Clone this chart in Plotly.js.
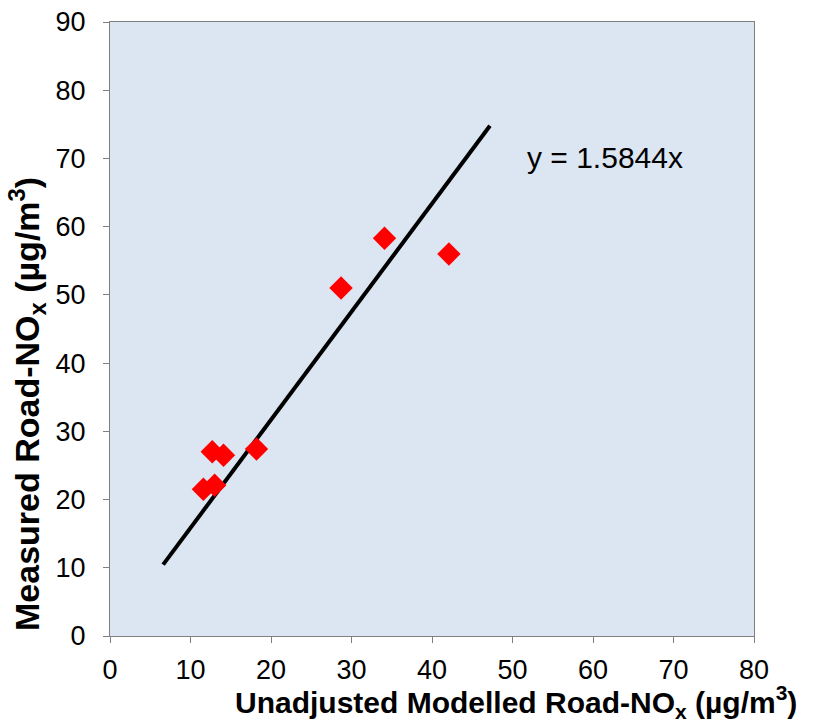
<!DOCTYPE html>
<html>
<head>
<meta charset="utf-8">
<script src="https://cdn.plot.ly/plotly-3.0.1.min.js"></script>
<style>html,body{margin:0;padding:0;background:#fff;}#chart{width:824px;height:727px;}</style>
</head>
<body>
<div id="chart"></div>
<script>
// Data
const modelled = [11.6, 13.0, 12.7, 14.1, 18.2, 28.7, 34.1, 42.1];
const measured = [21.5, 22.1, 27.0, 26.5, 27.4, 51.0, 58.3, 56.0];
const slope = 1.5844;
const fitX = [6.6, 47.2];
const fitY = fitX.map(x => slope * x);
const xTicks = [0, 10, 20, 30, 40, 50, 60, 70, 80];
const yTicks = [0, 10, 20, 30, 40, 50, 60, 70, 80, 90];

const traces = [
  {
    x: fitX, y: fitY, type: 'scatter', mode: 'lines',
    line: {color: '#000000', width: 4}, hoverinfo: 'skip'
  },
  {
    x: modelled, y: measured, type: 'scatter', mode: 'markers',
    marker: {symbol: 'diamond', size: 18, color: '#ff0000', line: {width: 0}}
  }
];

const axisCommon = {
  showgrid: false, zeroline: false, showline: true, linecolor: '#808080', linewidth: 1,
  mirror: true, ticks: 'outside', ticklen: 6, tickcolor: '#808080', tickwidth: 1,
  tickfont: {family: 'Liberation Sans, Arial, sans-serif', size: 27, color: '#000'}
};

const layout = {
  width: 824, height: 727,
  margin: {l: 110, r: 70, t: 22, b: 91},
  paper_bgcolor: '#ffffff', plot_bgcolor: '#dce6f2',
  showlegend: false,
  xaxis: Object.assign({}, axisCommon, {range: [0, 80], tickvals: xTicks, ticktext: xTicks.map(String), ticklabelstandoff: 4}),
  yaxis: Object.assign({}, axisCommon, {range: [0, 90], tickvals: yTicks, ticktext: yTicks.map(String), ticklabelstandoff: 12}),
  annotations: [
    {
      text: 'y = 1.5844x', xref: 'paper', yref: 'paper',
      x: (605 - 110) / 644, y: (636 - 157) / 614, xanchor: 'center', yanchor: 'middle',
      showarrow: false, font: {family: 'Liberation Sans, Arial, sans-serif', size: 30, color: '#000'}
    },
    {
      text: '<b>Unadjusted Modelled Road-NO<sub>x</sub> (µg/m<sup>3</sup>)</b>',
      xref: 'paper', yref: 'paper', x: (516 - 110) / 644, y: (636 - 702) / 614,
      xanchor: 'center', yanchor: 'middle', showarrow: false,
      font: {family: 'Liberation Sans, Arial, sans-serif', size: 30, color: '#000'}
    },
    {
      text: '<b>Measured Road-NO<sub>x</sub> (µg/m<sup>3</sup>)</b>',
      xref: 'paper', yref: 'paper', x: (27 - 110) / 644, y: (636 - 404) / 614,
      xanchor: 'center', yanchor: 'middle', textangle: -90, showarrow: false,
      font: {family: 'Liberation Sans, Arial, sans-serif', size: 34, color: '#000'}
    }
  ]
};

Plotly.newPlot('chart', traces, layout, {displayModeBar: false, staticPlot: true});
</script>
</body>
</html>
